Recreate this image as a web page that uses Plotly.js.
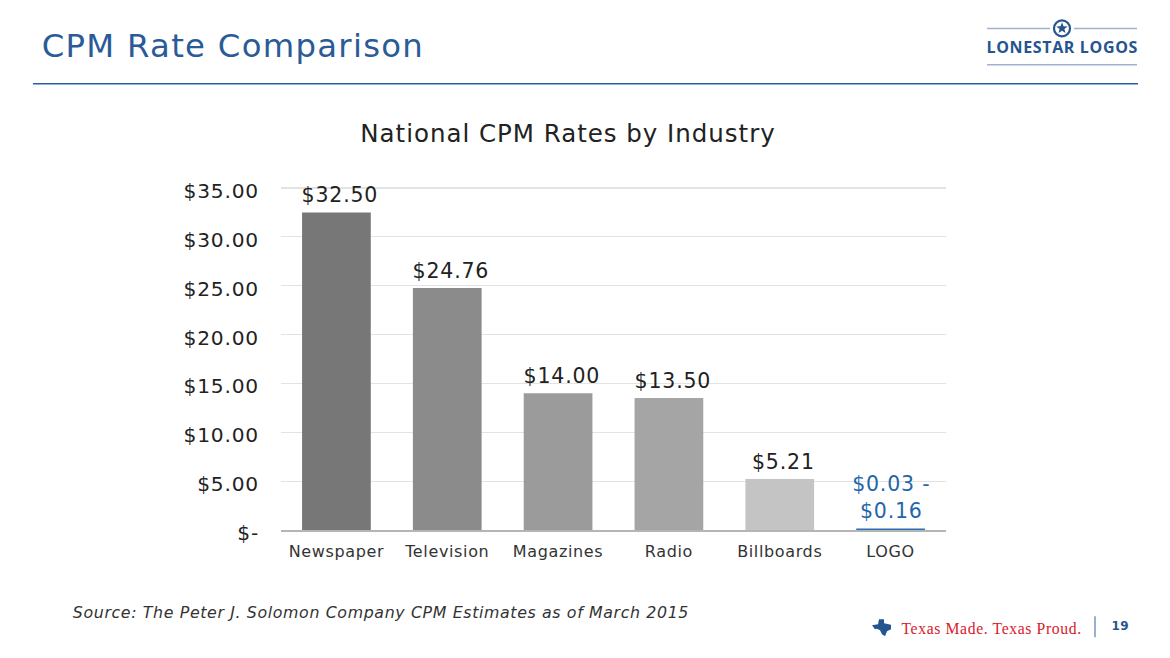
<!DOCTYPE html>
<html><head><meta charset="utf-8">
<script src="https://cdn.plot.ly/plotly-3.0.1.min.js"></script>
<style>html,body{margin:0;padding:0;background:#fff}
#chart .main-svg text{letter-spacing:0.04em}
#chart .ytick{transform:translateY(3px)}</style></head>
<body><div id="chart" style="width:1170px;height:658px"></div>
<script>
const categories = ["Newspaper","Television","Magazines","Radio","Billboards","LOGO"];
const values = [32.5,24.76,14.0,13.5,5.21,0.16];
const barLabels = ["$32.50","$24.76","$14.00","$13.50","$5.21","$0.03 -<br>$0.16"];
const barColors = ["#777777","#8b8b8b","#9b9b9b","#a5a5a5","#c4c4c4","#2f6fb0"];
const labelColors = ["#222222","#222222","#222222","#222222","#222222","#1f66ad"];
const tickVals = [0,5,10,15,20,25,30,35];
const tickLabels = ["$-","$5.00","$10.00","$15.00","$20.00","$25.00","$30.00","$35.00"];
const W=1170,H=658, FONT='"DejaVu Sans", sans-serif', BLUE='#24558f';
const L=281,R=946,T=183.5,B=530.5;
const px=x=>(x-L)/(R-L), py=y=>(B-y)/(B-T);
const line=(x0,y0,x1,y1,c,w)=>({type:'line',xref:'paper',yref:'paper',x0:px(x0),y0:py(y0),x1:px(x1),y1:py(y1),line:{color:c,width:w},layer:'above'});
const pathP=(pts,c)=>({type:'path',xref:'paper',yref:'paper',path:'M'+pts.map(p=>px(p[0])+','+py(p[1])).join('L')+'Z',fillcolor:c,line:{width:0},layer:'above'});
const text=(t,x,y,size,color,anchor,extra={})=>Object.assign({text:t,xref:'paper',yref:'paper',x:px(x),y:py(y),xanchor:anchor,yanchor:'middle',showarrow:false,font:{family:FONT,size:size,color:color}},extra);
function star(cx,cy,r){const p=[];for(let i=0;i<10;i++){const a=-Math.PI/2+i*Math.PI/5,q=i%2?r*0.42:r;p.push([cx+q*Math.cos(a),cy+q*Math.sin(a)]);}return p;}
const texas=[[872,626],[878,625],[879,620],[884,620],[884,624],[891,625.5],[891,630],[887,632],[885,637],[882,635],[880,631],[877,629.5],[875,630]];
const shapes=[
 line(33,83,1138,83,'#2a5f9e',1.5),
 line(987,27.5,1050,27.5,'#9fb3cf',1.5),line(1074,27.5,1137,27.5,'#9fb3cf',1.5),
 line(987,64,1137,64,'#9fb3cf',1.5),
 {type:'circle',xref:'paper',yref:'paper',x0:px(1054),y0:py(19.5),x1:px(1070),y1:py(35.5),line:{color:BLUE,width:2.2},fillcolor:'#fff',layer:'above'},
 pathP(star(1062,27.3,6),BLUE),
 pathP(texas,BLUE),
 line(1095,617,1095,638,'#2f629f',1)
];
const annotations=[
 text('CPM Rate Comparison',52,45,32.3,'#2a5b97','left'),
 text('LONESTAR LOGOS',1062,46,16,BLUE,'center',{font:{family:'"Open Sans", sans-serif',size:16,color:BLUE,weight:700}}),
 text('National CPM Rates by Industry',568,133,24.5,'#222222','center'),
 text('<i>Source: The Peter J. Solomon Company CPM Estimates as of March 2015</i>',92,613,15.8,'#333333','left'),
 text('Texas Made. Texas Proud.',907,629,15,'#d8202a','left',{font:{family:'"Liberation Serif",serif',size:15.7,color:'#d8202a'}}),
 text('<b>19</b>',1120,627,12,BLUE,'center')
].concat(categories.map((c,i)=>({xref:'x',yref:'y',x:c,y:values[i],text:barLabels[i],showarrow:false,xanchor:'center',yanchor:'bottom',yshift:3,xshift:i<5?4:1,
  font:{family:FONT,size:20.5,color:labelColors[i]}})));
Plotly.newPlot('chart',[{
 type:'bar',x:categories,y:values,cliponaxis:false,
 marker:{color:barColors,line:{width:0}},hoverinfo:'none'
}],{
 width:W,height:H,paper_bgcolor:'#fff',plot_bgcolor:'#fff',showlegend:false,bargap:0.38,
 margin:{l:L,r:W-R,t:T,b:H-B,autoexpand:false},
 xaxis:{type:'category',showline:true,linecolor:'#b5b5b5',linewidth:1.5,ticks:'',showgrid:false,
  tickfont:{family:FONT,size:16,color:'#333333'},ticklabelstandoff:6},
 yaxis:{range:[0,35.408],tickvals:tickVals,ticktext:tickLabels,showgrid:true,gridcolor:'#e3e3e3',gridwidth:1.2,zeroline:false,showline:false,ticks:'',
  tickfont:{family:FONT,size:20.2,color:'#222222'},ticklabelstandoff:21},
 shapes,annotations
},{displayModeBar:false,staticPlot:true});
</script></body></html>
